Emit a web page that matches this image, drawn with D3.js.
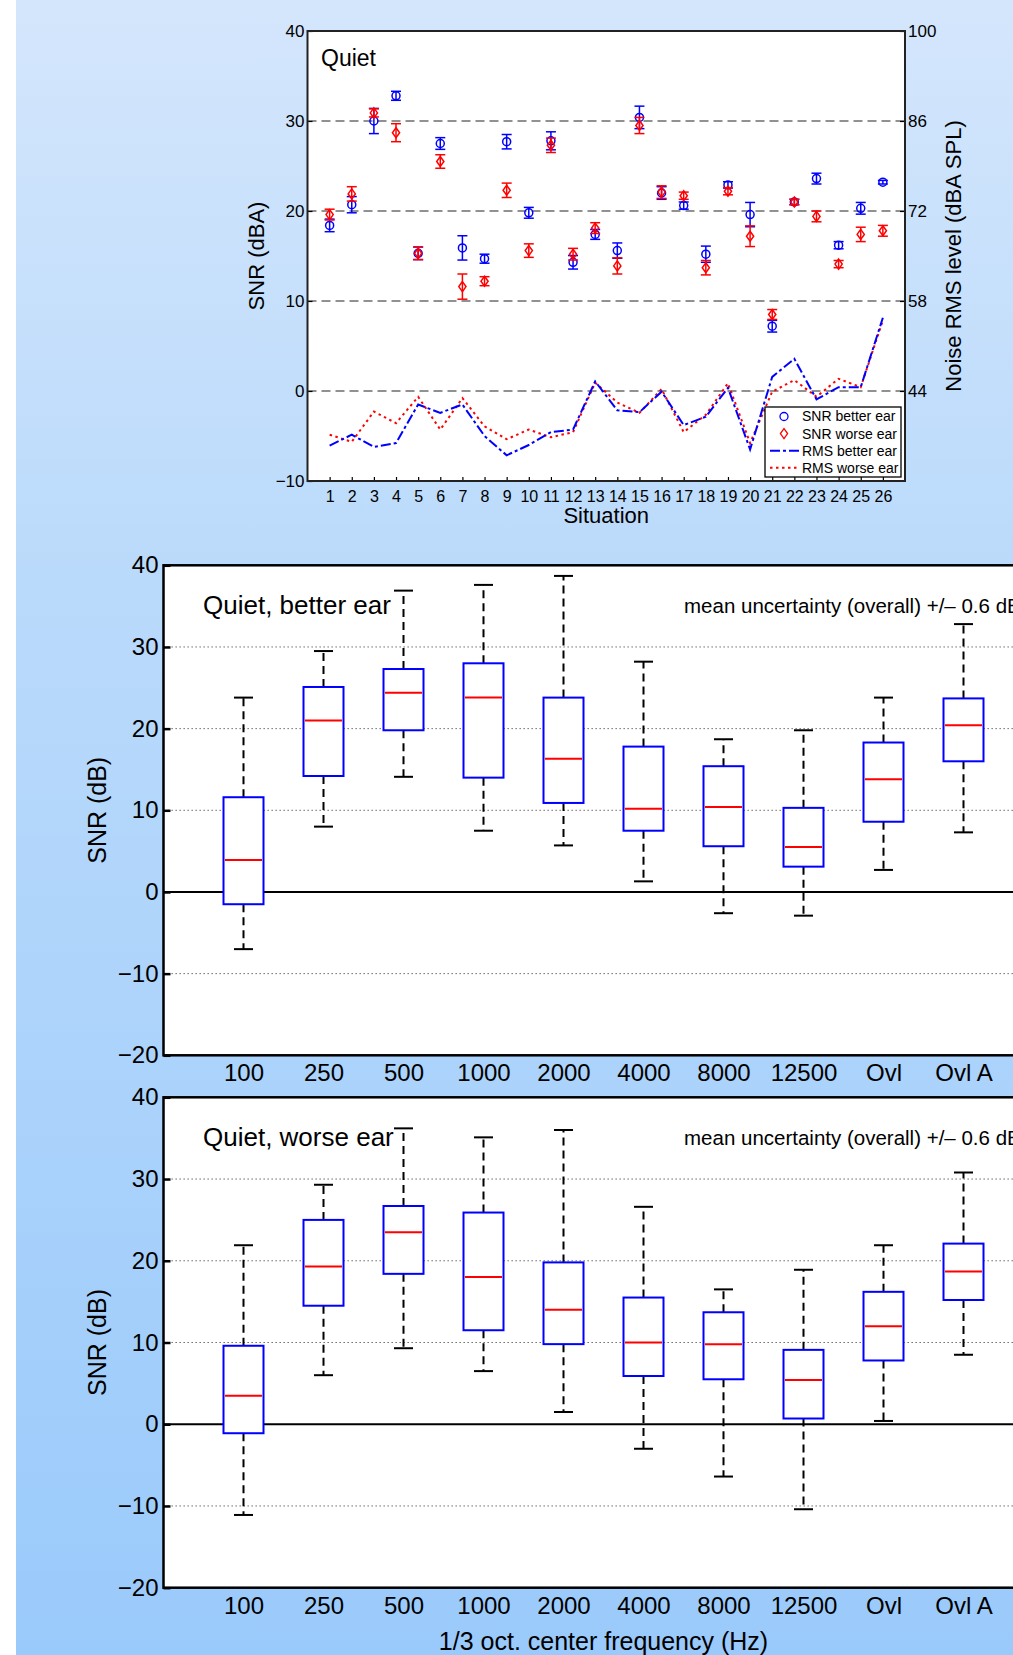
<!DOCTYPE html>
<html>
<head>
<meta charset="utf-8">
<script src="https://cdn.jsdelivr.net/npm/d3@7"></script>
<style>
  body { margin: 0; background: #fff; }
  svg text { font-family: "Liberation Sans", Arial, Helvetica, sans-serif; fill: #000; }
</style>
</head>
<body>
<div id="chart"></div>
<script>
// ---- data: top panel (per situation) ----
let situations = [1, 2, 3, 4, 5, 6, 7, 8, 9, 10, 11, 12, 13, 14, 15, 16, 17, 18, 19, 20, 21, 22, 23, 24, 25, 26];
let snrBetter = [18.4, 20.7, 30.0, 32.8, 15.3, 27.5, 15.9, 14.7, 27.7, 19.8, 27.8, 14.3, 17.4, 15.6, 30.4, 22.0, 20.6, 15.2, 22.9, 19.6, 7.2, 21.0, 23.6, 16.2, 20.3, 23.2];
let snrBetterErr = [0.7, 0.9, 1.4, 0.5, 0.7, 0.65, 1.35, 0.5, 0.8, 0.6, 1.0, 0.75, 0.55, 0.85, 1.25, 0.7, 0.4, 0.9, 0.35, 1.35, 0.65, 0.3, 0.6, 0.4, 0.65, 0.2];
let snrWorse = [19.6, 21.9, 30.9, 28.7, 15.3, 25.5, 11.6, 12.2, 22.3, 15.6, 27.3, 15.2, 18.1, 13.9, 29.5, 22.1, 21.7, 13.7, 22.2, 17.2, 8.5, 21.0, 19.4, 14.1, 17.4, 17.8];
let snrWorseErr = [0.6, 0.8, 0.45, 1.0, 0.7, 0.75, 1.4, 0.5, 0.8, 0.75, 0.8, 0.65, 0.6, 0.9, 0.9, 0.7, 0.4, 0.8, 0.4, 1.15, 0.55, 0.3, 0.6, 0.4, 0.8, 0.6];
let rmsBetter = [35.5, 37.2, 35.3, 35.9, 41.9, 40.6, 41.9, 37.0, 34.0, 35.6, 37.6, 38.0, 45.5, 41.0, 40.7, 43.9, 38.7, 40.0, 44.5, 34.9, 46.2, 49.0, 42.7, 44.6, 44.6, 55.4];
let rmsWorse = [37.2, 36.1, 40.8, 39.0, 43.1, 38.0, 42.9, 38.5, 36.5, 38.0, 36.8, 37.6, 45.3, 42.2, 40.6, 44.3, 37.6, 40.3, 45.2, 35.9, 43.9, 45.7, 43.1, 45.9, 44.6, 55.0];
let snrTicks = [-10, 0, 10, 20, 30, 40];
let rmsTicks = [44, 58, 72, 86, 100];

// ---- data: box plots (per 1/3 octave band) ----
let freqLabels = ["100", "250", "500", "1000", "2000", "4000", "8000", "12500", "Ovl", "Ovl A"];
let betterLo  = [-7.0, 8.0, 14.1, 7.5, 5.7, 1.3, -2.6, -2.9, 2.7, 7.3];
let betterQ1  = [-1.5, 14.2, 19.8, 14.0, 10.9, 7.5, 5.6, 3.1, 8.6, 16.0];
let betterMed = [3.9, 21.0, 24.4, 23.8, 16.3, 10.2, 10.4, 5.5, 13.8, 20.4];
let betterQ3  = [11.6, 25.1, 27.3, 28.0, 23.8, 17.8, 15.4, 10.3, 18.3, 23.7];
let betterHi  = [23.8, 29.5, 36.9, 37.6, 38.7, 28.2, 18.7, 19.8, 23.8, 32.8];
let worseLo  = [-11.1, 6.0, 9.3, 6.5, 1.5, -3.0, -6.4, -10.4, 0.4, 8.5];
let worseQ1  = [-1.1, 14.5, 18.4, 11.5, 9.8, 5.9, 5.5, 0.7, 7.8, 15.2];
let worseMed = [3.5, 19.3, 23.5, 18.0, 14.0, 10.0, 9.8, 5.4, 12.0, 18.7];
let worseQ3  = [9.6, 25.0, 26.7, 25.9, 19.8, 15.5, 13.7, 9.1, 16.2, 22.1];
let worseHi  = [21.9, 29.3, 36.2, 35.1, 36.0, 26.6, 16.5, 18.9, 21.9, 30.8];
let boxTicks = [-20, -10, 0, 10, 20, 30, 40];

let font = "'Liberation Sans', Arial, Helvetica, sans-serif";
let minus = v => (v < 0 ? "\u2212" + Math.abs(v) : "" + v);

let svg = d3.select("#chart")
  .append("svg")
  .attr("width", 1013)
  .attr("height", 1655);

// background gradient
let grad = svg.append("defs").append("linearGradient")
  .attr("id", "bg")
  .attr("x1", 0).attr("y1", 0).attr("x2", 0).attr("y2", 1);
grad.append("stop").attr("offset", "0%").attr("stop-color", "#d4e6fc");
grad.append("stop").attr("offset", "35%").attr("stop-color", "#badafb");
grad.append("stop").attr("offset", "100%").attr("stop-color", "#9acafb");

svg.append("rect")
  .attr("x", 16).attr("y", 0)
  .attr("width", 997).attr("height", 1655)
  .attr("fill", "url(#bg)");

// ================= top panel =================
let tp = { left: 307.5, right: 905, top: 31, bottom: 481 };

let xSit = d3.scaleLinear().domain([0, 27]).range([tp.left, tp.right]);
let ySnr = d3.scaleLinear().domain([-10, 40]).range([tp.bottom, tp.top]);
let yRms = d3.scaleLinear().domain([30, 100]).range([tp.bottom, tp.top]);

let topGroup = svg.append("g");

topGroup.append("rect")
  .attr("x", tp.left).attr("y", tp.top)
  .attr("width", tp.right - tp.left).attr("height", tp.bottom - tp.top)
  .attr("fill", "#fff");

// dashed grid
topGroup.selectAll(".tgrid")
  .data([0, 10, 20, 30])
  .enter()
  .append("line")
  .attr("x1", tp.left).attr("x2", tp.right)
  .attr("y1", d => ySnr(d)).attr("y2", d => ySnr(d))
  .attr("stroke", "#6e6e6e")
  .attr("stroke-width", 1.6)
  .attr("stroke-dasharray", "9,5");

// RMS lines (right axis)
let rmsLine = arr => d3.line()
  .x((d, i) => xSit(situations[i]))
  .y(d => yRms(d))(arr);

topGroup.append("path")
  .attr("d", rmsLine(rmsWorse))
  .attr("fill", "none")
  .attr("stroke", "#ff0000")
  .attr("stroke-width", 2)
  .attr("stroke-dasharray", "2.5,3.5");

topGroup.append("path")
  .attr("d", rmsLine(rmsBetter))
  .attr("fill", "none")
  .attr("stroke", "#0000ff")
  .attr("stroke-width", 2)
  .attr("stroke-dasharray", "10,3,3,3");

// error bars + markers
function drawErr(vals, errs, color) {
  let g = topGroup.append("g")
    .attr("stroke", color)
    .attr("stroke-width", 1.5)
    .attr("fill", "none");
  vals.forEach((v, i) => {
    let x = xSit(situations[i]);
    let y1 = ySnr(v - errs[i]);
    let y2 = ySnr(v + errs[i]);
    g.append("line").attr("x1", x).attr("x2", x).attr("y1", y1).attr("y2", y2);
    g.append("line").attr("x1", x - 5).attr("x2", x + 5).attr("y1", y1).attr("y2", y1);
    g.append("line").attr("x1", x - 5).attr("x2", x + 5).attr("y1", y2).attr("y2", y2);
  });
  return g;
}

let gBetter = drawErr(snrBetter, snrBetterErr, "#0000ff");
gBetter.selectAll("circle")
  .data(snrBetter)
  .enter()
  .append("circle")
  .attr("cx", (d, i) => xSit(situations[i]))
  .attr("cy", d => ySnr(d))
  .attr("r", 4);

let gWorse = drawErr(snrWorse, snrWorseErr, "#ff0000");
let diamond = (x, y) => `M${x},${y - 5}L${x + 3.6},${y}L${x},${y + 5}L${x - 3.6},${y}Z`;
gWorse.selectAll("path.dia")
  .data(snrWorse)
  .enter()
  .append("path")
  .attr("class", "dia")
  .attr("d", (d, i) => diamond(xSit(situations[i]), ySnr(d)));

// axes
let topX = topGroup.append("g")
  .attr("transform", `translate(0, ${tp.bottom})`)
  .call(d3.axisBottom(xSit).tickValues(situations).tickSizeInner(-4).tickSizeOuter(0).tickPadding(10));
let topL = topGroup.append("g")
  .attr("transform", `translate(${tp.left}, 0)`)
  .call(d3.axisLeft(ySnr).tickValues(snrTicks).tickFormat(minus).tickSizeInner(-5).tickSizeOuter(0).tickPadding(3));
let topR = topGroup.append("g")
  .attr("transform", `translate(${tp.right}, 0)`)
  .call(d3.axisRight(yRms).tickValues(rmsTicks).tickSizeInner(-5).tickSizeOuter(0).tickPadding(3));

[topX, topL, topR].forEach(a => {
  a.select(".domain").remove();
  a.selectAll("text").style("font-size", "17px").style("font-family", font).attr("fill", "#000");
  a.selectAll("line").attr("stroke", "#000").attr("stroke-width", 1.2);
});
// the situation numbers are packed tightly
topX.selectAll("text").style("font-size", "16px");

topGroup.append("rect")
  .attr("x", tp.left).attr("y", tp.top)
  .attr("width", tp.right - tp.left).attr("height", tp.bottom - tp.top)
  .attr("fill", "none")
  .attr("stroke", "#222")
  .attr("stroke-width", 2);

topGroup.append("text")
  .attr("x", 321).attr("y", 66)
  .style("font-size", "23px")
  .text("Quiet");

topGroup.append("text")
  .attr("x", (tp.left + tp.right) / 2).attr("y", 523)
  .attr("text-anchor", "middle")
  .style("font-size", "22px")
  .text("Situation");

topGroup.append("text")
  .attr("transform", "translate(256, 256) rotate(-90)")
  .attr("text-anchor", "middle")
  .attr("dy", "0.35em")
  .style("font-size", "22px")
  .text("SNR (dBA)");

topGroup.append("text")
  .attr("transform", "translate(953, 256) rotate(-90)")
  .attr("text-anchor", "middle")
  .attr("dy", "0.35em")
  .style("font-size", "22px")
  .text("Noise RMS level (dBA SPL)");

// legend
let legend = topGroup.append("g");
legend.append("rect")
  .attr("x", 765).attr("y", 407)
  .attr("width", 136).attr("height", 70)
  .attr("fill", "#fff")
  .attr("stroke", "#000")
  .attr("stroke-width", 1.3);

let legendItems = ["SNR better ear", "SNR worse ear", "RMS better ear", "RMS worse ear"];
legendItems.forEach((name, i) => {
  let y = 416.5 + i * 17.1;
  legend.append("text")
    .attr("x", 802).attr("y", y)
    .attr("dy", "0.35em")
    .style("font-size", "14px")
    .text(name);
  if (i === 0) {
    legend.append("circle").attr("cx", 784).attr("cy", y).attr("r", 4)
      .attr("fill", "none").attr("stroke", "#0000ff").attr("stroke-width", 1.3);
  } else if (i === 1) {
    legend.append("path").attr("d", diamond(784, y))
      .attr("fill", "none").attr("stroke", "#ff0000").attr("stroke-width", 1.3);
  } else {
    legend.append("line")
      .attr("x1", 770).attr("x2", 799).attr("y1", y).attr("y2", y)
      .attr("stroke", i === 2 ? "#0000ff" : "#ff0000")
      .attr("stroke-width", 2)
      .attr("stroke-dasharray", i === 2 ? "10,3,3,3" : "2.5,3.5");
  }
});

// ================= box plot panels =================
let xBox = d3.scaleLinear().domain([0, 11]).range([163.5, 1043.5]);
let bands = [1, 2, 3, 4, 5, 6, 7, 8, 9, 10];

function drawBoxPanel(yTop, yBottom, title, lo, q1, med, q3, hi, showXLabel) {
  let y = d3.scaleLinear().domain([-20, 40]).range([yBottom, yTop]);
  let g = svg.append("g");

  g.append("rect")
    .attr("x", xBox(0)).attr("y", yTop)
    .attr("width", xBox(11) - xBox(0)).attr("height", yBottom - yTop)
    .attr("fill", "#fff");

  // dotted grid
  g.selectAll(".bgrid")
    .data([-10, 10, 20, 30])
    .enter()
    .append("line")
    .attr("x1", xBox(0)).attr("x2", xBox(11))
    .attr("y1", d => y(d)).attr("y2", d => y(d))
    .attr("stroke", "#555")
    .attr("stroke-width", 1)
    .attr("stroke-dasharray", "1.3,2.7");

  g.append("line")
    .attr("x1", xBox(0)).attr("x2", xBox(11))
    .attr("y1", y(0)).attr("y2", y(0))
    .attr("stroke", "#000")
    .attr("stroke-width", 2);

  // whiskers
  bands.forEach((b, i) => {
    let x = xBox(b);
    g.append("line").attr("x1", x).attr("x2", x)
      .attr("y1", y(q3[i])).attr("y2", y(hi[i]))
      .attr("stroke", "#000").attr("stroke-width", 2).attr("stroke-dasharray", "8,5");
    g.append("line").attr("x1", x).attr("x2", x)
      .attr("y1", y(q1[i])).attr("y2", y(lo[i]))
      .attr("stroke", "#000").attr("stroke-width", 2).attr("stroke-dasharray", "8,5");
    g.append("line").attr("x1", x - 9.5).attr("x2", x + 9.5)
      .attr("y1", y(hi[i])).attr("y2", y(hi[i]))
      .attr("stroke", "#000").attr("stroke-width", 2);
    g.append("line").attr("x1", x - 9.5).attr("x2", x + 9.5)
      .attr("y1", y(lo[i])).attr("y2", y(lo[i]))
      .attr("stroke", "#000").attr("stroke-width", 2);
  });

  // boxes
  g.selectAll(".box")
    .data(bands)
    .enter()
    .append("rect")
    .attr("x", d => xBox(d - 0.25))
    .attr("y", (d, i) => y(q3[i]))
    .attr("width", xBox(0.5) - xBox(0))
    .attr("height", (d, i) => y(q1[i]) - y(q3[i]))
    .attr("fill", "#fff")
    .attr("stroke", "#0000ff")
    .attr("stroke-width", 2);

  // medians
  g.selectAll(".med")
    .data(bands)
    .enter()
    .append("line")
    .attr("x1", d => xBox(d - 0.25) + 1.5)
    .attr("x2", d => xBox(d + 0.25) - 1.5)
    .attr("y1", (d, i) => y(med[i]))
    .attr("y2", (d, i) => y(med[i]))
    .attr("stroke", "#ff0000")
    .attr("stroke-width", 2);

  let ax = g.append("g")
    .attr("transform", `translate(${xBox(0)}, 0)`)
    .call(d3.axisLeft(y).tickValues(boxTicks).tickFormat(minus).tickSizeInner(-7).tickSizeOuter(0).tickPadding(5));
  let bx = g.append("g")
    .attr("transform", `translate(0, ${yBottom})`)
    .call(d3.axisBottom(xBox).tickValues(bands).tickFormat(d => freqLabels[d - 1]).tickSize(0).tickPadding(9));
  [ax, bx].forEach(a => {
    a.select(".domain").remove();
    a.selectAll("text").style("font-size", "24px").style("font-family", font).attr("fill", "#000");
    a.selectAll("line").attr("stroke", "#000").attr("stroke-width", 2.5);
  });

  g.append("rect")
    .attr("x", xBox(0)).attr("y", yTop)
    .attr("width", xBox(11) - xBox(0)).attr("height", yBottom - yTop)
    .attr("fill", "none")
    .attr("stroke", "#000")
    .attr("stroke-width", 2.5);

  g.append("text")
    .attr("x", 203).attr("y", yTop + 49)
    .style("font-size", "26px")
    .text(title);

  g.append("text")
    .attr("x", 684).attr("y", yTop + 48)
    .style("font-size", "20.5px")
    .text("mean uncertainty (overall) +/\u2013 0.6 dB");

  g.append("text")
    .attr("transform", `translate(97, ${(yTop + yBottom) / 2}) rotate(-90)`)
    .attr("text-anchor", "middle")
    .attr("dy", "0.35em")
    .style("font-size", "25px")
    .text("SNR (dB)");

  if (showXLabel) {
    g.append("text")
      .attr("x", (xBox(0) + xBox(11)) / 2).attr("y", yBottom + 54)
      .attr("dy", "0.35em")
      .attr("text-anchor", "middle")
      .style("font-size", "25px")
      .text("1/3 oct. center frequency (Hz)");
  }
}

drawBoxPanel(565.3, 1055.3, "Quiet, better ear", betterLo, betterQ1, betterMed, betterQ3, betterHi, false);
drawBoxPanel(1097.3, 1587.7, "Quiet, worse ear", worseLo, worseQ1, worseMed, worseQ3, worseHi, true);
</script>
</body>
</html>
